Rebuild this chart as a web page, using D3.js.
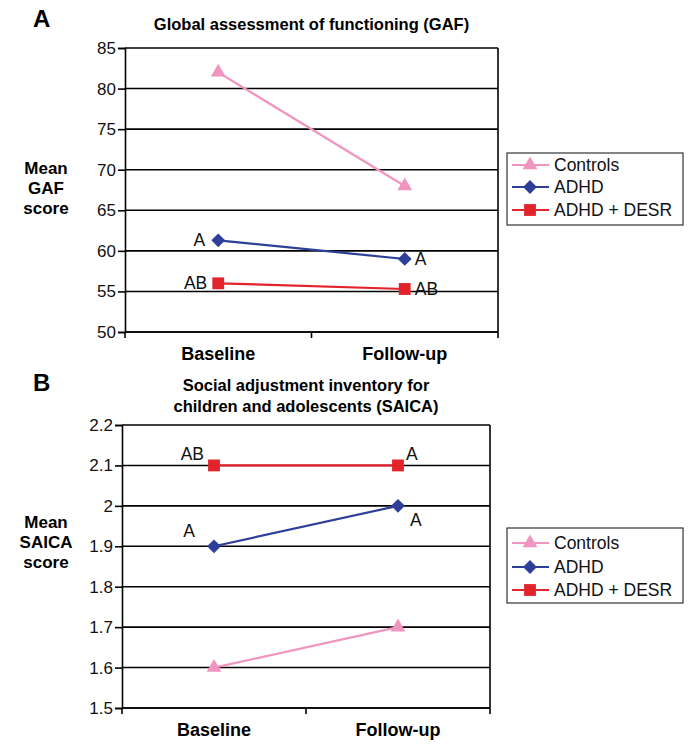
<!DOCTYPE html>
<html>
<head>
<meta charset="utf-8">
<script src="https://cdn.jsdelivr.net/npm/d3@7"></script>
<style>
  body { margin: 0; background: #fff; }
  svg text { font-family: "Liberation Sans", Arial, sans-serif; }
</style>
</head>
<body>
<svg id="chart" width="693" height="750"></svg>
<script>
// data
const categories = ["Baseline", "Follow-up"];
const seriesNames = ["Controls", "ADHD", "ADHD + DESR"];
const seriesColors = ["#f095c0", "#2e3f9a", "#e3232b"];
const seriesSymbols = [d3.symbolTriangle, d3.symbolSquare, d3.symbolSquare];

const gafControls = [82, 68];
const gafAdhd = [61.3, 59];
const gafDesr = [56, 55.3];
const gafTicks = [50, 55, 60, 65, 70, 75, 80, 85];

const saicaControls = [1.6, 1.7];
const saicaAdhd = [1.9, 2.0];
const saicaDesr = [2.1, 2.1];
const saicaTicks = [1.5, 1.6, 1.7, 1.8, 1.9, 2.0, 2.1, 2.2];

// significance letters next to points (null = none)
const gafLetters = [null, ["A", "A"], ["AB", "AB"]];
const saicaLetters = [null, ["A", "A"], ["AB", "A"]];

const svg = d3.select("#chart");

const symbolSize = [95, 95, 140];
const symbolRotate = [0, 45, 0];

function marker(s) {
    return d3.symbol().type(seriesSymbols[s]).size(symbolSize[s]);
}

function drawPanel(cfg) {
    const g = svg.append("g");

    const x = d3.scaleBand().domain(categories).range([cfg.left, cfg.right]);
    const y = d3.scaleLinear().domain(d3.extent(cfg.ticks)).range([cfg.bottom, cfg.top]);

    // panel letter + title
    g.append("text").attr("x", 33).attr("y", cfg.letterY)
        .attr("font-size", 24).attr("font-weight", "bold").text(cfg.letter);
    cfg.title.forEach((t, i) => {
        g.append("text").attr("x", (cfg.left + cfg.right) / 2).attr("y", cfg.titleY + i * 21)
            .attr("text-anchor", "middle").attr("font-size", 16.5).attr("font-weight", "bold")
            .text(t);
    });

    // gridlines
    g.selectAll(".grid").data(cfg.ticks).enter().append("line")
        .attr("x1", cfg.left).attr("x2", cfg.right)
        .attr("y1", d => y(d)).attr("y2", d => y(d))
        .attr("stroke", "#000").attr("stroke-width", 1.6);
    g.append("line").attr("x1", cfg.right).attr("x2", cfg.right)
        .attr("y1", cfg.top).attr("y2", cfg.bottom)
        .attr("stroke", "#000").attr("stroke-width", 1.6);

    // y axis
    const yAxis = g.append("g").attr("transform", "translate(" + cfg.left + ",0)")
        .call(d3.axisLeft(y).tickValues(cfg.ticks).tickSize(7).tickPadding(2)
            .tickFormat(cfg.fmt));
    yAxis.select(".domain").attr("stroke-width", 1.6);
    yAxis.selectAll(".tick line").attr("stroke-width", 1.6);
    yAxis.selectAll("text").attr("font-size", 17).attr("fill", "#111")
        .style("font-family", "'Liberation Sans', Arial, sans-serif");

    // x axis: ticks on category boundaries
    const xAxis = g.append("g").attr("transform", "translate(0," + cfg.bottom + ")");
    xAxis.append("line").attr("x1", cfg.left).attr("x2", cfg.right)
        .attr("stroke", "#000").attr("stroke-width", 1.6);
    const bounds = categories.map(c => x(c)).concat([cfg.right]);
    xAxis.selectAll(".xt").data(bounds).enter().append("line")
        .attr("x1", d => d).attr("x2", d => d).attr("y1", 0).attr("y2", 6)
        .attr("stroke", "#000").attr("stroke-width", 1.6);
    xAxis.selectAll(".xl").data(categories).enter().append("text")
        .attr("x", d => x(d) + x.bandwidth() / 2).attr("y", 28)
        .attr("text-anchor", "middle").attr("font-size", 18).attr("font-weight", "bold")
        .text(d => d);

    // y label
    cfg.yLabel.forEach((t, i) => {
        g.append("text").attr("x", 46).attr("y", cfg.yLabelY + i * 20)
            .attr("text-anchor", "middle").attr("font-size", 17).attr("font-weight", "bold")
            .text(t);
    });

    const cx = c => x(c) + x.bandwidth() / 2;
    const line = d3.line().x((d, i) => cx(categories[i])).y(d => y(d));

    // series, drawn so that Controls ends up on top like the original
    [2, 1, 0].forEach(s => {
        const vals = cfg.values[s];
        g.append("path").datum(vals).attr("d", line)
            .attr("fill", "none").attr("stroke", seriesColors[s]).attr("stroke-width", 2.2);
        g.selectAll(".m" + s).data(vals).enter().append("path")
            .attr("transform", (d, i) => "translate(" + cx(categories[i]) + "," + y(d) + ") rotate(" + symbolRotate[s] + ")")
            .attr("d", marker(s))
            .attr("fill", seriesColors[s]);
        const letters = cfg.letters[s];
        if (letters) {
            letters.forEach((t, i) => {
                const off = cfg.letterOffsets[s][i];
                g.append("text")
                    .attr("x", cx(categories[i]) + off[0]).attr("y", y(vals[i]) + off[1])
                    .attr("text-anchor", off[2]).attr("font-size", 17.5).attr("fill", "#111")
                    .text(t);
            });
        }
    });

    // legend
    const lg = g.append("g").attr("transform", "translate(" + cfg.legendX + "," + cfg.legendY + ")");
    lg.append("rect").attr("width", 176).attr("height", cfg.legendH)
        .attr("fill", "#fff").attr("stroke", "#333").attr("stroke-width", 1.2);
    seriesNames.forEach((n, s) => {
        const ly = cfg.legendRows[s];
        lg.append("line").attr("x1", 5).attr("x2", 42).attr("y1", ly).attr("y2", ly)
            .attr("stroke", seriesColors[s]).attr("stroke-width", 2.2);
        lg.append("path").attr("transform", "translate(23," + ly + ") rotate(" + symbolRotate[s] + ")")
            .attr("d", marker(s))
            .attr("fill", seriesColors[s]);
        lg.append("text").attr("x", 47).attr("y", ly + 6).attr("font-size", 17.5)
            .attr("fill", "#111").text(n);
    });
}

drawPanel({
    letter: "A", letterY: 27,
    title: ["Global assessment of functioning (GAF)"], titleY: 30,
    left: 125, right: 498, top: 48, bottom: 332,
    ticks: gafTicks, fmt: d3.format("d"),
    values: [gafControls, gafAdhd, gafDesr],
    letters: gafLetters,
    letterOffsets: [null, [[-13, 6, "end"], [10, 6, "start"]], [[-11, 6, "end"], [10, 6, "start"]]],
    yLabel: ["Mean", "GAF", "score"], yLabelY: 174,
    legendX: 507, legendY: 153, legendH: 72, legendRows: [12, 34, 57]
});

drawPanel({
    letter: "B", letterY: 391,
    title: ["Social adjustment inventory for", "children and adolescents (SAICA)"], titleY: 391,
    left: 122, right: 490, top: 425, bottom: 708,
    ticks: saicaTicks, fmt: d => d === 2 ? "2" : d3.format(".1f")(d),
    values: [saicaControls, saicaAdhd, saicaDesr],
    letters: saicaLetters,
    letterOffsets: [null, [[-19, -9, "end"], [12, 20, "start"]], [[-10, -5, "end"], [8, -5, "start"]]],
    yLabel: ["Mean", "SAICA", "score"], yLabelY: 528,
    legendX: 507, legendY: 528, legendH: 75, legendRows: [15, 39, 62]
});
</script>
</body>
</html>
